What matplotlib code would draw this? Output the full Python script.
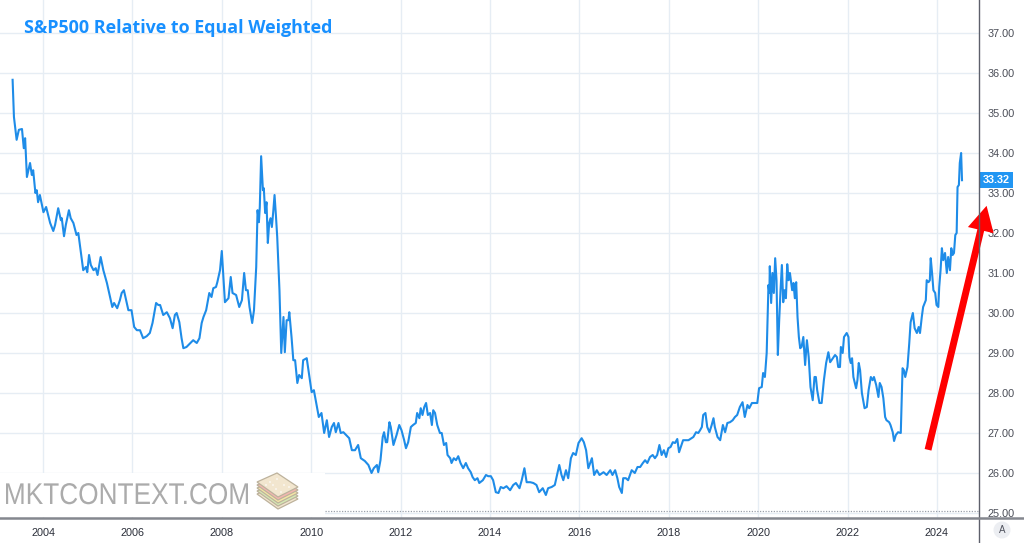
import matplotlib
matplotlib.use("Agg")
import matplotlib.pyplot as plt
from matplotlib.lines import Line2D
from matplotlib.patches import Rectangle, Polygon, Ellipse, FancyArrowPatch, ArrowStyle, PathPatch
from matplotlib.textpath import TextPath
from matplotlib.font_manager import FontProperties
from matplotlib.transforms import Affine2D

# === Data ===
years = [
    2003.32, 2003.35, 2003.41, 2003.46, 2003.53, 2003.57, 2003.60, 2003.64, 2003.71, 2003.75,
    2003.78, 2003.83, 2003.86, 2003.89, 2003.93, 2004.01, 2004.07, 2004.16, 2004.23, 2004.27,
    2004.34, 2004.40, 2004.42, 2004.47, 2004.51, 2004.58, 2004.62, 2004.68, 2004.75, 2004.79,
    2004.87, 2004.90, 2004.96, 2004.99, 2005.03, 2005.07, 2005.13, 2005.18, 2005.22, 2005.29,
    2005.35, 2005.43, 2005.50, 2005.55, 2005.59, 2005.66, 2005.72, 2005.76, 2005.81, 2005.86,
    2005.91, 2005.98, 2006.04, 2006.10, 2006.17, 2006.24, 2006.32, 2006.39, 2006.45, 2006.53,
    2006.58, 2006.62, 2006.69, 2006.77, 2006.84, 2006.90, 2006.95, 2006.99, 2007.05, 2007.10,
    2007.14, 2007.21, 2007.30, 2007.36, 2007.44, 2007.50, 2007.55, 2007.59, 2007.65, 2007.72,
    2007.77, 2007.81, 2007.87, 2007.90, 2007.96, 2008.00, 2008.07, 2008.15, 2008.20, 2008.24,
    2008.32, 2008.39, 2008.45, 2008.50, 2008.54, 2008.58, 2008.62, 2008.68, 2008.72, 2008.77,
    2008.80, 2008.83, 2008.85, 2008.88, 2008.92, 2008.94, 2008.97, 2009.00, 2009.03, 2009.06,
    2009.09, 2009.12, 2009.15, 2009.18, 2009.21, 2009.24, 2009.29, 2009.33, 2009.38, 2009.41,
    2009.45, 2009.49, 2009.51, 2009.56, 2009.60, 2009.64, 2009.69, 2009.73, 2009.79, 2009.82,
    2009.90, 2009.96, 2010.01, 2010.06, 2010.12, 2010.17, 2010.23, 2010.29, 2010.35, 2010.40,
    2010.46, 2010.51, 2010.55, 2010.61, 2010.66, 2010.72, 2010.78, 2010.85, 2010.91, 2010.98,
    2011.05, 2011.11, 2011.20, 2011.28, 2011.35, 2011.40, 2011.47, 2011.50, 2011.55, 2011.60,
    2011.63, 2011.67, 2011.70, 2011.75, 2011.78, 2011.84, 2011.91, 2011.97, 2012.02, 2012.08,
    2012.12, 2012.17, 2012.23, 2012.28, 2012.34, 2012.37, 2012.42, 2012.45, 2012.49, 2012.53,
    2012.57, 2012.61, 2012.66, 2012.70, 2012.73, 2012.77, 2012.82, 2012.88, 2012.92, 2012.97,
    2013.02, 2013.05, 2013.11, 2013.14, 2013.19, 2013.24, 2013.29, 2013.34, 2013.40, 2013.46,
    2013.51, 2013.57, 2013.61, 2013.66, 2013.72, 2013.76, 2013.84, 2013.91, 2013.96, 2014.02,
    2014.07, 2014.13, 2014.19, 2014.24, 2014.30, 2014.37, 2014.45, 2014.52, 2014.58, 2014.66,
    2014.71, 2014.77, 2014.82, 2014.90, 2014.97, 2015.04, 2015.10, 2015.18, 2015.25, 2015.30,
    2015.38, 2015.45, 2015.51, 2015.55, 2015.60, 2015.64, 2015.70, 2015.75, 2015.81, 2015.86,
    2015.92, 2015.98, 2016.05, 2016.10, 2016.15, 2016.20, 2016.28, 2016.33, 2016.39, 2016.45,
    2016.54, 2016.61, 2016.69, 2016.74, 2016.80, 2016.85, 2016.89, 2016.95, 2016.98, 2017.04,
    2017.09, 2017.17, 2017.24, 2017.30, 2017.36, 2017.42, 2017.47, 2017.52, 2017.58, 2017.64,
    2017.69, 2017.74, 2017.79, 2017.84, 2017.89, 2017.94, 2017.99, 2018.04, 2018.09, 2018.14,
    2018.19, 2018.23, 2018.32, 2018.44, 2018.55, 2018.61, 2018.66, 2018.70, 2018.74, 2018.77,
    2018.82, 2018.86, 2018.91, 2018.96, 2019.00, 2019.03, 2019.09, 2019.15, 2019.21, 2019.26,
    2019.31, 2019.37, 2019.43, 2019.48, 2019.53, 2019.59, 2019.65, 2019.70, 2019.76, 2019.80,
    2019.86, 2019.93, 2019.98, 2020.02, 2020.08, 2020.11, 2020.15, 2020.19, 2020.23, 2020.25,
    2020.26, 2020.29, 2020.32, 2020.35, 2020.38, 2020.41, 2020.44, 2020.47, 2020.50, 2020.53,
    2020.56, 2020.59, 2020.62, 2020.65, 2020.68, 2020.71, 2020.76, 2020.79, 2020.82, 2020.85,
    2020.88, 2020.91, 2020.94, 2020.97, 2021.01, 2021.05, 2021.09, 2021.13, 2021.17, 2021.22,
    2021.26, 2021.29, 2021.32, 2021.37, 2021.42, 2021.47, 2021.52, 2021.57, 2021.61, 2021.67,
    2021.72, 2021.76, 2021.79, 2021.83, 2021.85, 2021.89, 2021.92, 2021.98, 2022.02, 2022.04,
    2022.07, 2022.10, 2022.13, 2022.19, 2022.22, 2022.25, 2022.28, 2022.32, 2022.38, 2022.43,
    2022.47, 2022.52, 2022.56, 2022.59, 2022.64, 2022.69, 2022.72, 2022.76, 2022.80, 2022.84,
    2022.87, 2022.93, 2022.96, 2023.01, 2023.04, 2023.08, 2023.13, 2023.19, 2023.23, 2023.26,
    2023.29, 2023.34, 2023.38, 2023.41, 2023.46, 2023.50, 2023.55, 2023.59, 2023.62, 2023.66,
    2023.69, 2023.75, 2023.77, 2023.81, 2023.84, 2023.86, 2023.89, 2023.92, 2023.96, 2023.99,
    2024.03, 2024.05, 2024.08, 2024.11, 2024.14, 2024.18, 2024.22, 2024.25, 2024.29, 2024.32,
    2024.35, 2024.38, 2024.41, 2024.44, 2024.46, 2024.49, 2024.51, 2024.54, 2024.56,
]
ratio = [
    35.83, 34.90, 34.33, 34.58, 34.60, 34.12, 34.37, 33.40, 33.75, 33.45,
    33.57, 33.00, 33.07, 32.77, 32.95, 32.52, 32.65, 32.25, 32.05, 32.20,
    32.62, 32.32, 32.37, 31.92, 32.20, 32.57, 32.37, 32.25, 31.95, 32.00,
    31.32, 31.07, 31.15, 31.02, 31.45, 31.20, 31.07, 31.12, 30.95, 31.40,
    31.07, 30.75, 30.40, 30.15, 30.25, 30.12, 30.32, 30.50, 30.57, 30.32,
    30.07, 30.07, 29.65, 29.57, 29.57, 29.37, 29.42, 29.50, 29.75, 30.25,
    30.20, 30.20, 29.95, 30.02, 29.87, 29.62, 29.95, 30.00, 29.77, 29.37,
    29.12, 29.15, 29.25, 29.32, 29.25, 29.37, 29.75, 29.90, 30.07, 30.50,
    30.40, 30.62, 30.65, 30.77, 31.07, 31.55, 30.27, 30.37, 30.90, 30.50,
    30.45, 30.15, 30.32, 31.00, 30.57, 30.57, 30.15, 29.75, 30.07, 31.15,
    32.57, 32.27, 32.65, 33.92, 33.07, 33.12, 32.50, 32.77, 31.75, 32.25,
    32.37, 32.15, 32.52, 32.95, 32.45, 31.90, 30.57, 29.00, 29.90, 29.02,
    29.82, 29.82, 30.02, 29.40, 28.82, 28.82, 28.25, 28.45, 28.37, 28.82,
    28.87, 28.40, 28.02, 28.07, 27.70, 27.40, 27.50, 27.00, 27.32, 26.90,
    27.15, 27.25, 27.02, 27.25, 27.00, 27.02, 26.95, 26.87, 26.57, 26.57,
    26.70, 26.37, 26.30, 26.20, 26.00, 26.12, 26.20, 26.02, 26.32, 26.90,
    27.02, 26.77, 26.77, 27.27, 27.15, 26.70, 26.95, 27.20, 27.07, 26.82,
    26.62, 26.77, 27.15, 27.20, 27.25, 27.50, 27.37, 27.62, 27.45, 27.65,
    27.75, 27.45, 27.50, 27.20, 27.57, 27.50, 27.20, 27.00, 27.00, 26.70,
    26.75, 26.45, 26.37, 26.25, 26.37, 26.32, 26.42, 26.25, 26.12, 26.25,
    26.12, 26.02, 25.90, 25.82, 25.87, 25.75, 25.82, 25.95, 25.92, 25.92,
    25.82, 25.52, 25.50, 25.65, 25.62, 25.67, 25.57, 25.70, 25.75, 25.62,
    25.82, 26.12, 25.77, 25.77, 25.75, 25.70, 25.52, 25.62, 25.45, 25.62,
    25.65, 25.70, 26.00, 26.20, 25.95, 25.82, 26.07, 25.87, 26.37, 26.50,
    26.45, 26.75, 26.87, 26.77, 26.57, 26.12, 26.37, 25.95, 26.07, 25.95,
    26.02, 25.95, 26.07, 25.95, 26.07, 25.87, 25.65, 25.50, 25.87, 25.87,
    25.82, 26.07, 26.00, 26.15, 26.15, 26.25, 26.32, 26.25, 26.40, 26.45,
    26.37, 26.45, 26.70, 26.45, 26.57, 26.40, 26.62, 26.65, 26.77, 26.75,
    26.85, 26.52, 26.82, 26.82, 26.90, 27.02, 27.00, 27.07, 27.15, 27.45,
    27.50, 27.15, 27.02, 27.20, 27.37, 27.15, 26.90, 26.82, 27.20, 27.02,
    27.25, 27.27, 27.32, 27.40, 27.45, 27.65, 27.77, 27.40, 27.70, 27.62,
    27.75, 27.75, 27.75, 28.12, 28.15, 28.50, 28.40, 29.00, 30.70, 30.50,
    31.17, 30.25, 31.00, 30.50, 31.37, 30.82, 28.95, 29.82, 30.57, 31.20,
    30.27, 30.57, 30.37, 31.22, 30.82, 31.00, 30.57, 30.75, 30.37, 30.77,
    29.90, 29.40, 29.12, 29.15, 29.40, 28.70, 29.32, 28.90, 28.15, 27.82,
    28.40, 28.40, 28.07, 27.75, 27.75, 28.32, 28.75, 29.02, 28.77, 28.87,
    28.95, 28.90, 28.65, 28.65, 29.15, 29.00, 29.40, 29.50, 29.40, 28.90,
    28.75, 28.87, 28.40, 28.12, 28.32, 28.75, 28.57, 28.00, 27.62, 27.65,
    28.07, 28.40, 28.32, 28.40, 28.20, 27.90, 28.25, 28.15, 27.87, 27.40,
    27.32, 27.27, 27.20, 27.02, 26.80, 26.95, 27.02, 27.00, 28.62, 28.57,
    28.40, 28.65, 29.25, 29.77, 30.00, 29.62, 29.50, 29.65, 29.50, 29.90,
    30.15, 30.32, 30.82, 30.77, 30.82, 31.37, 31.00, 30.57, 30.50, 30.20,
    30.15, 30.65, 31.07, 31.62, 31.32, 31.50, 31.00, 31.40, 31.07, 31.62,
    31.45, 31.50, 31.95, 32.00, 33.15, 33.20, 33.75, 34.00, 33.32,
]
year_ticks = list(range(2004, 2025, 2))
value_ticks = list(range(25, 38))
last_value = 33.32
title = "S&P500 Relative to Equal Weighted"

W, H = 1024, 543
LINE_BLUE = "#1e8ce8"
GRID = "#e6edf4"
AXIS_DARK = "#5d606b"

fig = plt.figure(figsize=(W / 100, H / 100), dpi=100)
fig.patch.set_facecolor("white")
ax = fig.add_axes([0, 25 / H, 979 / W, 518 / H])

ax.plot(years, ratio, color=LINE_BLUE, lw=1.5, zorder=3, solid_joinstyle="round")

ax.set_xlim(2003.038, 2024.94)
ax.set_ylim(24.875, 37.825)
ax.set_xticks(year_ticks)
ax.set_xticklabels([str(y) for y in year_ticks])
ax.set_yticks(value_ticks)
ax.set_yticklabels([f"{v:.2f}" for v in value_ticks])
ax.yaxis.tick_right()
ax.tick_params(axis="y", length=0, pad=6, labelsize=7.8, labelcolor="#4a4d57")
ax.tick_params(axis="x", length=0, pad=7, labelsize=7.8, labelcolor="#2a2e39")
for lab in ax.get_xticklabels() + ax.get_yticklabels():
    lab.set_fontfamily("Liberation Sans")
for s in ax.spines.values():
    s.set_visible(False)
ax.set_axisbelow(True)
ax.grid(True, color=GRID, lw=1.0)

# dotted base line at 25
ax.axhline(25.05, xmin=325 / 979, xmax=1, color="#9aa0aa", lw=0.9, ls=(0, (1, 1.2)), zorder=2)

# white watermark panel
ax.add_patch(Rectangle((0, 1 / 518), 325 / 979, 44 / 518, transform=ax.transAxes,
                       facecolor="white", edgecolor="none", zorder=1.5))

# title
fig.text(24 / W, 1 - 28 / H, title, color="#1890ff", fontsize=12.9, fontweight="bold",
         family=["Open Sans", "DejaVu Sans"], va="center", ha="left")

# frame lines
fig.add_artist(Line2D([979 / W, 979 / W], [0, 1], color=AXIS_DARK, lw=1.0))
fig.add_artist(Line2D([0, 1], [25 / H, 25 / H], color="#84878e", lw=1.8))

# last value label
ax.annotate(f"{last_value:.2f}", xy=(1, last_value), xycoords=("axes fraction", "data"),
            xytext=(3, 0), textcoords="offset points", va="center", ha="left",
            fontsize=7.8, color="white", fontweight="bold", family="Liberation Sans",
            bbox=dict(boxstyle="square,pad=0.25", fc="#2196f3", ec="none"),
            annotation_clip=False, zorder=6)

# "A" auto button
fig.add_artist(Ellipse((1002 / W, 1 - 530 / H), 17 / W, 17 / H, transform=fig.transFigure,
                       facecolor="#eceef2", edgecolor="none"))
fig.text(1002 / W, 1 - 530 / H, "A", fontsize=7, color="#50535e",
         ha="center", va="center", family="Liberation Sans")

# red arrow
arrow = FancyArrowPatch((2023.80, 26.58), (2025.11, 32.68),
                        arrowstyle=ArrowStyle("simple", head_length=18, head_width=19, tail_width=5),
                        color="#ff0000", lw=0, zorder=5, clip_on=False,
                        shrinkA=0, shrinkB=0, mutation_scale=1)
ax.add_patch(arrow)

# watermark text, drawn as a horizontally condensed path (pixel coords)
tp = TextPath((0, 0), "MKTCONTEXT.COM", size=30,
              prop=FontProperties(family="Liberation Sans"))
tb = tp.get_extents()
sx = 242 / tb.width
wm_tr = Affine2D().translate(-tb.x0, 0).scale(sx, 1.0).translate(6, H - 504)
fig.add_artist(PathPatch(tp, transform=wm_tr, facecolor="#ababab", edgecolor="none"))

# logo: stacked layers
def px(x, y):
    return (x / W, 1 - y / H)

layers = [
    (12, "#f2e6cf"),
    (9, "#d5e9b4"),
    (6, "#f5e6a6"),
    (3, "#f4b6b0"),
    (0, "#f2e6cf"),
]
for off, col in layers:
    pts = [px(257, 482 + off), px(277, 473 + off), px(298, 487 + off), px(278, 497 + off)]
    fig.add_artist(Polygon(pts, closed=True, transform=fig.transFigure,
                           facecolor=col, edgecolor="#bdb29c", lw=0.9))
for dx, dy in [(270, 482), (277, 479), (284, 485), (276, 489), (289, 487), (266, 485), (281, 492), (273, 485)]:
    fig.add_artist(Ellipse(px(dx, dy), 1.6 / W, 1.6 / H, transform=fig.transFigure,
                           facecolor="white", edgecolor="none"))

fig.savefig("out.png", dpi=100)
